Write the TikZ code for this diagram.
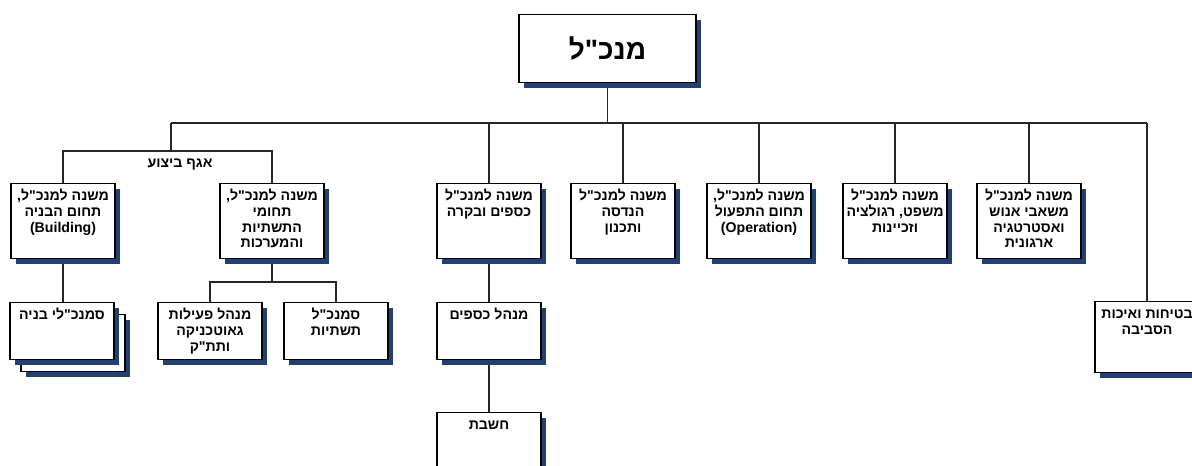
\documentclass[tikz,border=0pt]{standalone}
\usepackage{fontspec}
\setmainfont{Liberation Sans}
\newfontfamily\hebfont[Script=Hebrew]{Liberation Sans}
\TeXXeTstate=1
\usetikzlibrary{shadows}
\definecolor{shadowblue}{RGB}{35,64,115}
\newcommand{\R}[1]{\beginR #1\endR}
\newcommand{\orgtext}[3]{\parbox[c][#2][t]{#1}{\centering\hebfont\bfseries\fontsize{10.6pt}{11.8pt}\selectfont\rule{0pt}{12.75pt}#3}}
\pgfdeclarelayer{bg}
\pgfsetlayers{bg,main}
\tikzset{
  orgbox/.style={draw=black, line width=0.8pt, fill=white, inner sep=0pt, anchor=north,
    drop shadow={shadow xshift=3.75pt, shadow yshift=-3.75pt, fill=shadowblue, opacity=1}},
  link/.style={draw=black!85, line width=1.1pt},
  grouplabel/.style={font=\hebfont\bfseries\fontsize{10.6pt}{12pt}\selectfont, inner sep=0pt}
}
\begin{document}
\begin{tikzpicture}[x=0.75pt,y=-0.75pt]
\useasboundingbox (0,0) rectangle (1192,465);
% top
\node[orgbox] (ceo) at (607.5,14) {\parbox[c][51pt][c]{132.75pt}{\centering\hebfont\bfseries\fontsize{21pt}{24pt}\selectfont\R{מנכ"ל}}};
% row 1
\node[orgbox] (b1) at (63,183) {\orgtext{78pt}{56.25pt}{\R{משנה למנכ"ל,}\\\R{תחום הבניה}\\(Building)}};
\node[orgbox] (b2) at (272,183) {\orgtext{78pt}{56.25pt}{\R{משנה למנכ"ל,}\\\R{תחומי}\\\R{התשתיות}\\\R{והמערכות}}};
\node[orgbox] (b3) at (489,183) {\orgtext{78pt}{56.25pt}{\R{משנה למנכ"ל}\\\R{כספים ובקרה}}};
\node[orgbox] (b4) at (623,183) {\orgtext{78pt}{56.25pt}{\R{משנה למנכ"ל}\\\R{הנדסה}\\\R{ותכנון}}};
\node[orgbox] (b5) at (759,183) {\orgtext{78pt}{56.25pt}{\R{משנה למנכ"ל,}\\\R{תחום התפעול}\\(Operation)}};
\node[orgbox] (b6) at (895,183) {\orgtext{78pt}{56.25pt}{\R{משנה למנכ"ל}\\\R{משפט, רגולציה}\\\R{וזכיינות}}};
\node[orgbox] (b7) at (1029,183) {\orgtext{78pt}{56.25pt}{\R{משנה למנכ"ל}\\\R{משאבי אנוש}\\\R{ואסטרטגיה}\\\R{ארגונית}}};
% row 2
\node[orgbox, minimum width=78pt, minimum height=42.75pt] (c1b) at (73,314) {};
\node[orgbox] (c1) at (62,302) {\orgtext{78pt}{42.75pt}{\R{סמנכ"לי בניה}}};
\node[orgbox] (c2) at (210,302) {\orgtext{78pt}{42.75pt}{\R{מנהל פעילות}\\\R{גאוטכניקה}\\\R{ותת"ק}}};
\node[orgbox] (c3) at (336,302) {\orgtext{78pt}{42.75pt}{\R{סמנכ"ל}\\\R{תשתיות}}};
\node[orgbox] (c4) at (489,302) {\orgtext{78pt}{42.75pt}{\R{מנהל כספים}}};
\node[orgbox] (safety) at (1147,301) {\orgtext{78pt}{53.25pt}{\R{בטיחות ואיכות}\\\R{הסביבה}}};
% row 3
\node[orgbox] (d1) at (489,412) {\orgtext{78pt}{42.75pt}{\R{חשבת}}};
% group label
\node[grouplabel] (agaf) at (180,165) {\R{אגף ביצוע}};
% connectors
\coordinate (bl) at (171,123);
\coordinate (br) at (1147,123);
\coordinate (ex) at (171,151);
\coordinate (ib) at (272,282);
\begin{pgfonlayer}{bg}
\draw[link] (ceo.south) -- (ceo.south |- bl);
\draw[link] (bl) -- (br);
\draw[link] (br) -- (safety.north);
\draw[link] (bl) -- (ex);
\draw[link] (b1.north) -- (b1.north |- ex) -- (b2.north |- ex) -- (b2.north);
\foreach \n in {b3,b4,b5,b6,b7} \draw[link] (\n.north) -- (\n.north |- bl);
\draw[link] (b1.south) -- (b1.south |- c1.north);
\draw[link] (b2.south) -- (b2.south |- ib);
\draw[link] (c2.north) -- (c2.north |- ib) -- (c3.north |- ib) -- (c3.north);
\draw[link] (b3.south) -- (c4.north);
\draw[link] (c4.south) -- (d1.north);
\end{pgfonlayer}
\end{tikzpicture}
\end{document}
